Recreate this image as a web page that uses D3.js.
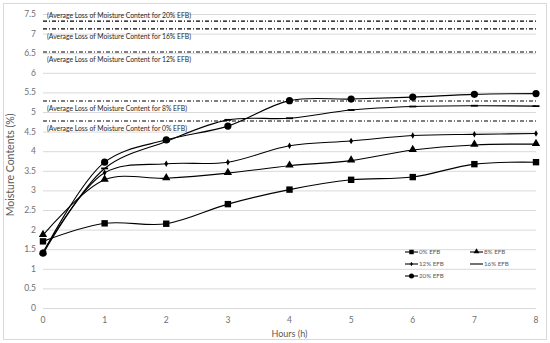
<!DOCTYPE html>
<html>
<head>
<meta charset="utf-8">
<script src="https://d3js.org/d3.v7.min.js"></script>
<style>
  body { margin: 0; background: #fff; }
  text { font-family: Lato, "Open Sans", sans-serif; }
</style>
</head>
<body>
<svg id="chart" width="550" height="343"></svg>
<script>
// hours on the x axis
const hours = [0, 1, 2, 3, 4, 5, 6, 7, 8];

// moisture content (%) per series
const efb0  = [1.70, 2.16, 2.15, 2.65, 3.02, 3.27, 3.34, 3.67, 3.72];
const efb8  = [1.86, 3.27, 3.31, 3.44, 3.63, 3.76, 4.03, 4.16, 4.18];
const efb12 = [1.42, 3.45, 3.68, 3.72, 4.14, 4.26, 4.40, 4.43, 4.45];
const efb16 = [1.38, 3.56, 4.25, 4.80, 4.84, 5.05, 5.14, 5.16, 5.15];
const efb20 = [1.40, 3.72, 4.29, 4.64, 5.29, 5.33, 5.38, 5.45, 5.47];

const seriesNames = ["0% EFB", "8% EFB", "12% EFB", "16% EFB", "20% EFB"];
const seriesMarkers = ["square", "triangle", "diamond", "dash", "circle"];

// average loss reference lines
const avgLabels = ["0% EFB", "8% EFB", "12% EFB", "16% EFB", "20% EFB"];
const avgValues = [4.77, 5.28, 6.53, 7.12, 7.32];

const yTicks = [0, 0.5, 1, 1.5, 2, 2.5, 3, 3.5, 4, 4.5, 5, 5.5, 6, 6.5, 7, 7.5];

const svg = d3.select("#chart");

// outer frame
svg.append("rect")
  .attr("x", 3.5).attr("y", 3.5).attr("width", 543).attr("height", 336)
  .attr("fill", "#fff").attr("stroke", "#d9d9d9");

const x = d3.scaleLinear().domain([0, 8]).range([43, 536]);
const y = d3.scaleLinear().domain([0, 7.5]).range([308, 14]);

// gridlines
svg.append("g").selectAll("line").data(yTicks).enter().append("line")
  .attr("x1", x(0)).attr("x2", x(8))
  .attr("y1", d => y(d) + 0.5).attr("y2", d => y(d) + 0.5)
  .attr("stroke", "#d9d9d9").attr("stroke-width", 1);

// y tick labels
svg.append("g").selectAll("text").data(yTicks).enter().append("text")
  .attr("x", 36).attr("y", d => y(d) + 3)
  .attr("text-anchor", "end").attr("font-size", 8.5).attr("fill", "#6f6f6f")
  .text(d => d);

// x tick labels
svg.append("g").selectAll("text").data(hours).enter().append("text")
  .attr("x", d => x(d)).attr("y", 323)
  .attr("text-anchor", "middle").attr("font-size", 8.5).attr("fill", "#6f6f6f")
  .text(d => d);

// axis titles
svg.append("text")
  .attr("x", x(4)).attr("y", 337)
  .attr("text-anchor", "middle").attr("font-size", 9).attr("fill", "#595959")
  .text("Hours (h)");

svg.append("text")
  .attr("transform", "translate(14," + y(3.65) + ") rotate(-90)")
  .attr("text-anchor", "middle").attr("font-size", 10.5).attr("fill", "#595959")
  .text("Moisture Contents (%)");

// average loss lines (dash-dot)
const avg = avgValues.map((v, i) => ({ v: v, label: avgLabels[i] }));
svg.append("g").selectAll("line").data(avg).enter().append("line")
  .attr("x1", x(0)).attr("x2", x(8))
  .attr("y1", d => y(d.v)).attr("y2", d => y(d.v))
  .attr("stroke", "#000").attr("stroke-width", 1.2)
  .attr("stroke-dasharray", "4,2,1,2");

svg.append("g").selectAll("text").data(avg).enter().append("text")
  .attr("x", 47)
  // the 20% label sits above its line, the others below
  .attr("y", d => d.label === "20% EFB" ? y(d.v) - 3 : y(d.v) + 10)
  .attr("font-size", 6.8).attr("fill", "#262626")
  .text(d => "(Average Loss of Moisture Content for " + d.label + ")");

// series
const allSeries = [efb0, efb8, efb12, efb16, efb20];
const line = d3.line()
  .x((d, i) => x(hours[i]))
  .y(d => y(d))
  .curve(d3.curveCatmullRom.alpha(0.5));

function drawMarker(g, type, cx, cy) {
  if (type === "square") {
    g.append("rect").attr("x", cx - 3.2).attr("y", cy - 3.2)
      .attr("width", 6.4).attr("height", 6.4).attr("fill", "#000");
  } else if (type === "triangle") {
    g.append("path").attr("d", d3.symbol(d3.symbolTriangle, 30)())
      .attr("transform", "translate(" + cx + "," + (cy - 0.5) + ")").attr("fill", "#000");
  } else if (type === "diamond") {
    g.append("path").attr("d", d3.symbol(d3.symbolDiamond, 12)())
      .attr("transform", "translate(" + cx + "," + cy + ")").attr("fill", "#000");
  } else if (type === "dash") {
    g.append("line").attr("x1", cx - 3.5).attr("x2", cx + 3.5)
      .attr("y1", cy).attr("y2", cy).attr("stroke", "#000").attr("stroke-width", 1.8);
  } else if (type === "circle") {
    g.append("circle").attr("cx", cx).attr("cy", cy).attr("r", 3.6).attr("fill", "#000");
  }
}

allSeries.forEach((vals, si) => {
  const g = svg.append("g");
  g.append("path").datum(vals)
    .attr("d", line)
    .attr("fill", "none").attr("stroke", "#000").attr("stroke-width", 1.1);
  vals.forEach((v, i) => drawMarker(g, seriesMarkers[si], x(hours[i]), y(v)));
});

// legend
const legendPos = [[405, 252], [470, 252], [405, 264], [470, 264], [405, 276]];
seriesNames.forEach((name, i) => {
  const g = svg.append("g");
  const lx = legendPos[i][0], ly = legendPos[i][1];
  g.append("line").attr("x1", lx).attr("x2", lx + 13)
    .attr("y1", ly).attr("y2", ly).attr("stroke", "#000").attr("stroke-width", 1.1);
  if (seriesMarkers[i] !== "dash") {
    const mg = svg.append("g").attr("transform", "translate(" + (lx + 6.5) + "," + ly + ") scale(0.7)");
    drawMarker(mg, seriesMarkers[i], 0, 0);
  }
  g.append("text").attr("x", lx + 14).attr("y", ly + 2.3)
    .attr("font-size", 6.2).attr("fill", "#595959")
    .text(name);
});
</script>
</body>
</html>
